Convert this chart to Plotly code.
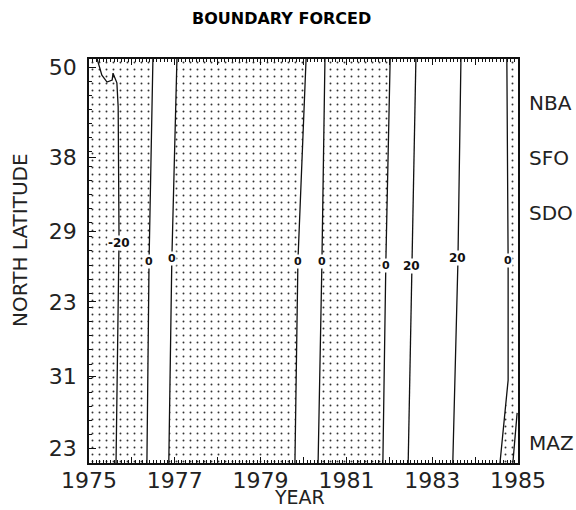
import numpy as np
import plotly.graph_objects as go

# ---- data (year vs alongshore position, 0 = bottom, 100 = top) ----
# contour lines: x = year, y = alongshore position (listed top -> bottom)
line_m20_x = [1975.19, 1975.30, 1975.42, 1975.54, 1975.56, 1975.65, 1975.68, 1975.70, 1975.63]
line_m20_y = [100.0, 96.0, 94.3, 94.8, 96.5, 94.1, 88.1, 55.2, 0.0]

line_b_x = [1976.49, 1976.40, 1976.35]   # 0
line_c_x = [1977.05, 1976.93, 1976.86]   # 0
line_d_x = [1980.06, 1979.87, 1979.80]   # 0
line_e_x = [1980.50, 1980.43, 1980.34]   # 0
line_f_x = [1982.02, 1981.92, 1981.85]   # 0
line_g_x = [1982.62, 1982.53, 1982.44]   # 20
line_h_x = [1983.67, 1983.60, 1983.48]   # 20
line_3_y = [100.0, 50.0, 0.0]

line_i_x = [1984.74, 1984.77, 1984.77, 1984.58]  # 0
line_i_y = [100.0, 50.0, 20.5, 0.0]
line_j_x = [1984.98, 1984.88]
line_j_y = [12.4, 0.0]

# contour labels: (text, line x, line y, label y)
contour_labels = [
    ("-20", line_m20_x, line_m20_y, 54.5),
    ("0", line_b_x, line_3_y, 49.8),
    ("0", line_c_x, line_3_y, 50.7),
    ("0", line_d_x, line_3_y, 49.8),
    ("0", line_e_x, line_3_y, 49.8),
    ("0", line_f_x, line_3_y, 49.0),
    ("20", line_g_x, line_3_y, 48.8),
    ("20", line_h_x, line_3_y, 50.7),
    ("0", line_i_x, line_i_y, 50.2),
]

# axes
year_ticks = list(range(1975, 1986))
year_labels = [str(y) if y % 2 == 1 else "" for y in year_ticks]
lat_tickvals = [98.0, 75.7, 57.4, 39.9, 21.5, 3.7]
lat_ticktext = ["50", "38", "29", "23", "31", "23"]
stations = ["NBA", "SFO", "SDO", "MAZ"]
station_pos = [89.1, 75.5, 61.9, 5.0]

X0, X1 = 1975, 1985
Y0, Y1 = 0, 100

fig = go.Figure()

pattern = dict(shape=".", size=7, solidity=0.06, fgcolor="#333333", bgcolor="white", fillmode="replace")

def neg_region(x, y):
    fig.add_trace(go.Scatter(x=x, y=y, mode="lines", line=dict(width=0, color="rgba(0,0,0,0)"),
                             fill="toself", fillcolor="white", fillpattern=pattern,
                             hoverinfo="skip", showlegend=False))

# negative (stippled) regions
neg_region([X0, X0] + line_b_x, [Y0, Y1] + line_3_y)
neg_region(line_c_x + line_d_x[::-1], line_3_y + line_3_y[::-1])
neg_region(line_e_x + line_f_x[::-1], line_3_y + line_3_y[::-1])
neg_region(line_i_x + [X1, X1], line_i_y + [Y0, Y1])

# contour lines
for xs, ys in [(line_m20_x, line_m20_y), (line_b_x, line_3_y), (line_c_x, line_3_y),
               (line_d_x, line_3_y), (line_e_x, line_3_y), (line_f_x, line_3_y),
               (line_g_x, line_3_y), (line_h_x, line_3_y), (line_i_x, line_i_y),
               (line_j_x, line_j_y)]:
    fig.add_trace(go.Scatter(x=xs, y=ys, mode="lines", line=dict(color="#111", width=1.3),
                             hoverinfo="skip", showlegend=False))

annotations = []
for txt, xs, ys, ly in contour_labels:
    lx = float(np.interp(ly, ys[::-1], xs[::-1]))
    annotations.append(dict(x=lx, y=ly, xref="x", yref="y", text="<b>" + txt + "</b>", showarrow=False,
                            xanchor="center", yanchor="middle",
                            font=dict(family="DejaVu Sans", size=12 if txt != "0" else 11, color="#111"),
                            bgcolor="white", borderpad=0))

for name, pos in zip(stations, station_pos):
    annotations.append(dict(x=1.02, y=pos, xref="paper", yref="y", text=name, showarrow=False,
                            xanchor="left", yanchor="middle",
                            font=dict(family="DejaVu Sans", size=20, color="#222")))

annotations.append(dict(x=-0.161, y=0.552, xref="paper", yref="paper", text="NORTH LATITUDE",
                        textangle=-90, showarrow=False, xanchor="center", yanchor="middle",
                        font=dict(family="DejaVu Sans", size=20, color="#222")))
annotations.append(dict(x=0.49, y=-0.084, xref="paper", yref="paper", text="YEAR",
                        showarrow=False, xanchor="center", yanchor="middle",
                        font=dict(family="DejaVu Sans", size=19, color="#222")))
annotations.append(dict(x=0.448, y=1.101, xref="paper", yref="paper", text="<b>BOUNDARY FORCED</b>",
                        showarrow=False, xanchor="center", yanchor="middle",
                        font=dict(family="DejaVu Sans", size=16, color="#000")))

fig.update_layout(
    width=576, height=510,
    margin=dict(l=89, r=58, t=59, b=47),
    paper_bgcolor="white", plot_bgcolor="white",
    annotations=annotations,
    showlegend=False,
)
fig.update_xaxes(range=[X0, X1], tickvals=year_ticks, ticktext=year_labels,
                 ticks="inside", ticklen=6, tickcolor="#111", showgrid=False, zeroline=False,
                 showline=True, linecolor="#111", linewidth=1.5, mirror="ticks",
                 minor=dict(ticks="inside", ticklen=3, dtick=1/12, tick0=1975, tickcolor="#111"),
                 ticklabelstandoff=-3,
                 tickfont=dict(family="DejaVu Sans", size=22, color="#222"))
fig.update_yaxes(range=[Y0, Y1], tickvals=lat_tickvals, ticktext=lat_ticktext,
                 ticks="inside", ticklen=7, tickcolor="#111", showgrid=False, zeroline=False,
                 showline=True, linecolor="#111", linewidth=1.5, mirror=True,
                 minor=dict(ticks="inside", ticklen=3, dtick=3.5, tick0=0, tickcolor="#111"),
                 ticklabelstandoff=6,
                 tickfont=dict(family="DejaVu Sans", size=22, color="#222"))

fig.write_html("out.html")
